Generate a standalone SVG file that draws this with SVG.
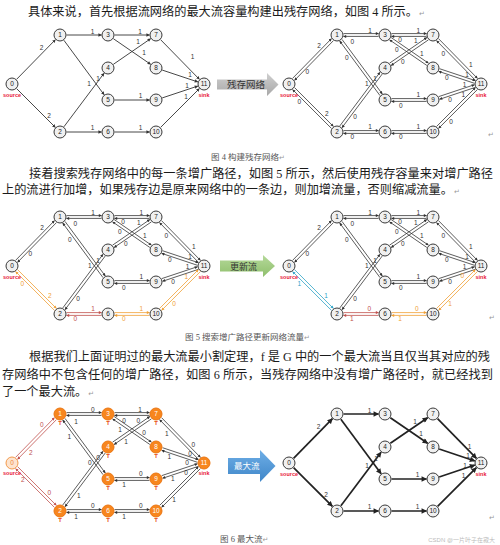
<svg xmlns="http://www.w3.org/2000/svg" width="500" height="545" viewBox="0 0 500 545">
<style>
.txt{font-family:"Liberation Serif","Noto Sans CJK SC",serif;font-size:12.2px;fill:#1a1a1a}
.cap{font-family:"Liberation Serif","Noto Sans CJK SC",serif;font-size:8.5px;fill:#555}
.pm{font-family:"DejaVu Sans",sans-serif;font-size:7px;fill:#999}
.nd circle{fill:#f0f0f0;stroke:#3a3a3a;stroke-width:1}
.num{font-family:"Liberation Sans",sans-serif;font-size:6.5px;text-anchor:middle;fill:#222}
.on circle{fill:#f7861e;stroke:#ec7612}
.on .num{fill:#fff}
.src circle{fill:#fde4cf;stroke:#f39a4c}
.src .num{fill:#f0883a}
.tag{font-family:"Liberation Sans",sans-serif;font-size:5.5px;font-weight:bold;fill:#e8203a;text-anchor:middle}
.T{font-family:"Liberation Sans",sans-serif;font-size:6px;font-weight:bold;fill:#e8501a;text-anchor:middle}
.lb{font-family:"Liberation Sans",sans-serif;font-size:6.5px;fill:#333;text-anchor:middle}
.lo{fill:#f0a035}
.lr{fill:#c0504d}
.lt{fill:#2fa3c7}
.se{stroke:#333;stroke-width:0.9;fill:none;marker-end:url(#ad)}
.rd{stroke:#333;stroke-width:0.8;fill:none;marker-end:url(#ad2)}
.ro{stroke:#f0a035;marker-end:url(#ao)}
.rr{stroke:#c0504d;marker-end:url(#ar)}
.rt{stroke:#2fa3c7;marker-end:url(#at)}
.be{stroke:#222;stroke-width:1.7;fill:none;marker-end:url(#ab)}
.bx{font-family:"Noto Sans CJK SC",sans-serif}
</style>
<defs>
<marker id="ad" viewBox="0 0 10 10" refX="9" refY="5" markerUnits="userSpaceOnUse" markerWidth="4" markerHeight="3.4" orient="auto"><path d="M0,0L10,5L0,10z" fill="#333"/></marker>
<marker id="ad2" viewBox="0 0 10 10" refX="9" refY="5" markerUnits="userSpaceOnUse" markerWidth="4" markerHeight="3" orient="auto"><path d="M0,0L10,5L0,10z" fill="#333"/></marker>
<marker id="ao" viewBox="0 0 10 10" refX="9" refY="5" markerUnits="userSpaceOnUse" markerWidth="4" markerHeight="3" orient="auto"><path d="M0,0L10,5L0,10z" fill="#f0a035"/></marker>
<marker id="ar" viewBox="0 0 10 10" refX="9" refY="5" markerUnits="userSpaceOnUse" markerWidth="4" markerHeight="3" orient="auto"><path d="M0,0L10,5L0,10z" fill="#c0504d"/></marker>
<marker id="at" viewBox="0 0 10 10" refX="9" refY="5" markerUnits="userSpaceOnUse" markerWidth="4" markerHeight="3" orient="auto"><path d="M0,0L10,5L0,10z" fill="#2fa3c7"/></marker>
<marker id="ab" viewBox="0 0 10 10" refX="9" refY="5" markerUnits="userSpaceOnUse" markerWidth="6.5" markerHeight="5.5" orient="auto"><path d="M0,0L10,5L0,10z" fill="#222"/></marker>
<linearGradient id="gg" x1="0" y1="0" x2="0" y2="1"><stop offset="0" stop-color="#cfcfcf"/><stop offset="1" stop-color="#a8a8a8"/></linearGradient>
<linearGradient id="gn" x1="0" y1="0" x2="0" y2="1"><stop offset="0" stop-color="#b5d99a"/><stop offset="1" stop-color="#8fbf6c"/></linearGradient>
<linearGradient id="gb" x1="0" y1="0" x2="0" y2="1"><stop offset="0" stop-color="#6eaee6"/><stop offset="1" stop-color="#3f86c8"/></linearGradient>
<path id="s01" d="M16.55,79.36L55.45,39.64"/>
<path id="s02" d="M16.6,88.6L55.4,127.4"/>
<path id="s13" d="M66.5,35L101.5,35"/>
<path id="s15" d="M63.86,40.23L104.14,94.77"/>
<path id="s24" d="M63.9,126.8L104.1,73.2"/>
<path id="s26" d="M66.5,132L101.5,132"/>
<path id="s37" d="M114.5,35L149.5,35"/>
<path id="s38" d="M113.36,38.68L150.64,64.32"/>
<path id="s47" d="M113.36,64.32L150.64,38.68"/>
<path id="s59" d="M114.5,100L149.5,100"/>
<path id="s610" d="M114.5,132L149.5,132"/>
<path id="s711" d="M160.55,39.64L199.45,79.36"/>
<path id="s811" d="M162.17,70.06L197.83,81.94"/>
<path id="s911" d="M162.17,97.95L197.83,86.06"/>
<path id="s1011" d="M160.6,127.4L199.4,88.6"/>
<g id="r01"><path d="M15.55,78.38L54.45,38.66"/><path d="M56.45,40.62L17.55,80.34"/></g>
<g id="r02"><path d="M17.59,87.61L56.39,126.41"/><path d="M54.41,128.39L15.61,89.59"/></g>
<g id="r13"><path d="M66.5,33.6L101.5,33.6"/><path d="M101.5,36.4L66.5,36.4"/></g>
<g id="r15"><path d="M64.99,39.39L105.27,93.94"/><path d="M103.01,95.61L62.74,41.06"/></g>
<g id="r24"><path d="M62.78,125.96L102.98,72.36"/><path d="M105.22,74.04L65.02,127.64"/></g>
<g id="r26"><path d="M66.5,130.6L101.5,130.6"/><path d="M101.5,133.4L66.5,133.4"/></g>
<g id="r37"><path d="M114.5,33.6L149.5,33.6"/><path d="M149.5,36.4L114.5,36.4"/></g>
<g id="r38"><path d="M114.15,37.53L151.44,63.16"/><path d="M149.85,65.47L112.56,39.84"/></g>
<g id="r47"><path d="M112.56,63.16L149.85,37.53"/><path d="M151.44,39.84L114.15,65.47"/></g>
<g id="r59"><path d="M114.5,98.6L149.5,98.6"/><path d="M149.5,101.4L114.5,101.4"/></g>
<g id="r610"><path d="M114.5,130.6L149.5,130.6"/><path d="M149.5,133.4L114.5,133.4"/></g>
<g id="r711"><path d="M161.55,38.66L200.45,78.38"/><path d="M198.45,80.34L159.55,40.62"/></g>
<g id="r811"><path d="M162.61,68.73L198.28,80.62"/><path d="M197.39,83.27L161.72,71.38"/></g>
<g id="r911"><path d="M161.72,96.62L197.39,84.73"/><path d="M198.28,87.38L162.61,99.27"/></g>
<g id="r1011"><path d="M159.61,126.41L198.41,87.61"/><path d="M200.39,89.59L161.59,128.39"/></g>
</defs>

<rect width="500" height="545" fill="#fff"/>

<g id="texts">
<text class="txt" x="28" y="16">具体来说，首先根据流网络的最大流容量构建出残存网络，如图 4 所示。<tspan class="pm" dx="1">↵</tspan></text>
<text class="cap" x="211" y="160">图 4 构建残存网络<tspan class="pm">↵</tspan></text>
<text class="txt" x="29" y="177.5" textLength="464" lengthAdjust="spacing">接着搜索残存网络中的每一条增广路径，如图 5 所示，然后使用残存容量来对增广路径</text>
<text class="txt" x="2" y="193.5">上的流进行加增，如果残存边是原来网络中的一条边，则加增流量，否则缩减流量。<tspan class="pm" dx="1">↵</tspan></text>
<text class="cap" x="185" y="340">图 5 搜索增广路径更新网络流量<tspan class="pm">↵</tspan></text>
<text class="txt" x="29" y="361.3" textLength="461" lengthAdjust="spacing">根据我们上面证明过的最大流最小割定理，f 是 G 中的一个最大流当且仅当其对应的残</text>
<text class="txt" x="2" y="379.3" textLength="491" lengthAdjust="spacing">存网络中不包含任何的增广路径，如图 6 所示，当残存网络中没有增广路径时，就已经找到</text>
<text class="txt" x="2" y="396.3">了一个最大流。<tspan class="pm" dx="1">↵</tspan></text>
<text class="cap" x="220" y="542">图 6 最大流<tspan class="pm">↵</tspan></text>
<text class="pm" x="488" y="137">↵</text>
<text class="pm" x="489" y="320">↵</text>
<text class="pm" x="489" y="520">↵</text>
<text x="495" y="542" text-anchor="end" font-family="Liberation Sans, Noto Sans CJK SC, sans-serif" font-size="6" fill="#bbb">CSDN @一片叶子在寂大</text>
</g>

<g id="arrow-residual">
<polygon points="217,79.5 267,79.5 267,73 278.5,84.5 267,96 267,89.5 217,89.5" fill="url(#gg)"/>
<text class="bx" x="227" y="88" font-size="9.5" fill="#333">残存网络</text>
</g>
<g id="arrow-update">
<polygon points="220,260.5 263,260.5 263,255 275,266 263,277 263,271.5 220,271.5" fill="url(#gn)"/>
<text class="bx" x="230" y="269.5" font-size="9" fill="#333">更新流</text>
</g>
<g id="arrow-maxflow">
<polygon points="228,458 260,458 260,450 275.5,466 260,482 260,474 228,474" fill="url(#gb)"/>
<text class="bx" x="234" y="469" font-size="8.5" fill="#fff">最大流</text>
</g>

<!-- Panel 1: flow network -->
<g id="panel1">
<g id="p1-edges">
<use href="#s01" class="se"/><use href="#s02" class="se"/><use href="#s13" class="se"/><use href="#s15" class="se"/><use href="#s24" class="se"/><use href="#s26" class="se"/><use href="#s37" class="se"/><use href="#s38" class="se"/><use href="#s47" class="se"/><use href="#s59" class="se"/><use href="#s610" class="se"/><use href="#s711" class="se"/><use href="#s811" class="se"/><use href="#s911" class="se"/><use href="#s1011" class="se"/>
<text class="lb" x="41.5" y="49.8">2</text><text class="lb" x="49" y="118.3">2</text><text class="lb" x="92.5" y="33.8">1</text><text class="lb" x="98" y="81.3">1</text><text class="lb" x="89" y="86.3">1</text><text class="lb" x="140" y="33.8">1</text><text class="lb" x="144" y="55.3">1</text><text class="lb" x="138" y="43.8">1</text><text class="lb" x="140.5" y="98.3">1</text><text class="lb" x="92.5" y="129.8">1</text><text class="lb" x="140.5" y="129.8">1</text><text class="lb" x="192.5" y="58.8">1</text><text class="lb" x="190" y="77.3">1</text><text class="lb" x="187" y="88.3">1</text><text class="lb" x="186" y="98.8">1</text>
</g>
<g id="p1-n0" class="nd"><circle cx="12" cy="84" r="6"/><text class="num" x="12" y="86.3">0</text><text class="tag" x="12" y="96.5">source</text></g>
<g id="p1-n1" class="nd"><circle cx="60" cy="35" r="6"/><text class="num" x="60" y="37.3">1</text></g>
<g id="p1-n2" class="nd"><circle cx="60" cy="132" r="6"/><text class="num" x="60" y="134.3">2</text></g>
<g id="p1-n3" class="nd"><circle cx="108" cy="35" r="6"/><text class="num" x="108" y="37.3">3</text></g>
<g id="p1-n4" class="nd"><circle cx="108" cy="68" r="6"/><text class="num" x="108" y="70.3">4</text></g>
<g id="p1-n5" class="nd"><circle cx="108" cy="100" r="6"/><text class="num" x="108" y="102.3">5</text></g>
<g id="p1-n6" class="nd"><circle cx="108" cy="132" r="6"/><text class="num" x="108" y="134.3">6</text></g>
<g id="p1-n7" class="nd"><circle cx="156" cy="35" r="6"/><text class="num" x="156" y="37.3">7</text></g>
<g id="p1-n8" class="nd"><circle cx="156" cy="68" r="6"/><text class="num" x="156" y="70.3">8</text></g>
<g id="p1-n9" class="nd"><circle cx="156" cy="100" r="6"/><text class="num" x="156" y="102.3">9</text></g>
<g id="p1-n10" class="nd"><circle cx="156" cy="132" r="6"/><text class="num" x="156" y="134.3">10</text></g>
<g id="p1-n11" class="nd"><circle cx="204" cy="84" r="6"/><text class="num" x="204" y="86.3">11</text><text class="tag" x="204" y="96.5">sink</text></g>
</g>

<!-- Panel 2: residual network -->
<g id="panel2" transform="translate(277,0)">
<g id="p2-edges">
<use href="#r01" class="rd"/><use href="#r02" class="rd"/><use href="#r13" class="rd"/><use href="#r15" class="rd"/><use href="#r24" class="rd"/><use href="#r26" class="rd"/><use href="#r37" class="rd"/><use href="#r38" class="rd"/><use href="#r47" class="rd"/><use href="#r59" class="rd"/><use href="#r610" class="rd"/><use href="#r711" class="rd"/><use href="#r811" class="rd"/><use href="#r911" class="rd"/><use href="#r1011" class="rd"/>
<text class="lb" x="42" y="48">2</text><text class="lb" x="30.3" y="74">0</text>
<text class="lb" x="22.3" y="104">0</text><text class="lb" x="49.7" y="116.3">2</text>
<text class="lb" x="93" y="33">1</text><text class="lb" x="75.3" y="44">0</text>
<text class="lb" x="69.7" y="59.6">0</text><text class="lb" x="98" y="81">1</text>
<text class="lb" x="89.7" y="86.3">1</text><text class="lb" x="78" y="119">0</text>
<text class="lb" x="93" y="129">1</text><text class="lb" x="75.3" y="139">0</text>
<text class="lb" x="141.3" y="33">1</text><text class="lb" x="123" y="42.3">0</text>
<text class="lb" x="119.7" y="52.3">0</text><text class="lb" x="144.7" y="55.6">1</text>
<text class="lb" x="138.7" y="43.3">1</text><text class="lb" x="125.7" y="64">0</text>
<text class="lb" x="141.3" y="96.6">1</text><text class="lb" x="123.7" y="108">0</text>
<text class="lb" x="141.3" y="129">1</text><text class="lb" x="123.7" y="139">0</text>
<text class="lb" x="166.3" y="55.6">0</text><text class="lb" x="193.7" y="67.3">1</text>
<text class="lb" x="169.7" y="79.6">0</text><text class="lb" x="190" y="77.3">1</text>
<text class="lb" x="173" y="101.6">0</text><text class="lb" x="187.5" y="87.3">1</text>
<text class="lb" x="174" y="124">0</text><text class="lb" x="186.3" y="96.8">1</text>
</g>
<g id="p2-n0" class="nd"><circle cx="12" cy="84" r="6"/><text class="num" x="12" y="86.3">0</text><text class="tag" x="12" y="96.5">source</text></g>
<g id="p2-n1" class="nd"><circle cx="60" cy="35" r="6"/><text class="num" x="60" y="37.3">1</text></g>
<g id="p2-n2" class="nd"><circle cx="60" cy="132" r="6"/><text class="num" x="60" y="134.3">2</text></g>
<g id="p2-n3" class="nd"><circle cx="108" cy="35" r="6"/><text class="num" x="108" y="37.3">3</text></g>
<g id="p2-n4" class="nd"><circle cx="108" cy="68" r="6"/><text class="num" x="108" y="70.3">4</text></g>
<g id="p2-n5" class="nd"><circle cx="108" cy="100" r="6"/><text class="num" x="108" y="102.3">5</text></g>
<g id="p2-n6" class="nd"><circle cx="108" cy="132" r="6"/><text class="num" x="108" y="134.3">6</text></g>
<g id="p2-n7" class="nd"><circle cx="156" cy="35" r="6"/><text class="num" x="156" y="37.3">7</text></g>
<g id="p2-n8" class="nd"><circle cx="156" cy="68" r="6"/><text class="num" x="156" y="70.3">8</text></g>
<g id="p2-n9" class="nd"><circle cx="156" cy="100" r="6"/><text class="num" x="156" y="102.3">9</text></g>
<g id="p2-n10" class="nd"><circle cx="156" cy="132" r="6"/><text class="num" x="156" y="134.3">10</text></g>
<g id="p2-n11" class="nd"><circle cx="204" cy="84" r="6"/><text class="num" x="204" y="86.3">11</text><text class="tag" x="204" y="96.5">sink</text></g>
</g>

<!-- Panel 3: augmenting path highlighted -->
<g id="panel3" transform="translate(0,182)">
<g id="p3-edges">
<use href="#r01" class="rd"/><use href="#r02" class="rd ro"/><use href="#r13" class="rd"/><use href="#r15" class="rd"/><use href="#r24" class="rd"/><use href="#r26" class="rd rr"/><use href="#r37" class="rd"/><use href="#r38" class="rd"/><use href="#r47" class="rd"/><use href="#r59" class="rd"/><use href="#r610" class="rd ro"/><use href="#r711" class="rd"/><use href="#r811" class="rd"/><use href="#r911" class="rd"/><use href="#r1011" class="rd ro"/>
<text class="lb" x="42" y="48">2</text><text class="lb" x="30.3" y="74">0</text>
<text class="lb lo" x="22.3" y="104">0</text><text class="lb lo" x="49.7" y="116.3">2</text>
<text class="lb" x="93" y="33">1</text><text class="lb" x="75.3" y="44">0</text>
<text class="lb" x="69.7" y="59.6">0</text><text class="lb" x="98" y="81">1</text>
<text class="lb" x="89.7" y="86.3">1</text><text class="lb" x="78" y="119">0</text>
<text class="lb lr" x="93" y="129">1</text><text class="lb lr" x="75.3" y="139">0</text>
<text class="lb" x="141.3" y="33">1</text><text class="lb" x="123" y="42.3">0</text>
<text class="lb" x="119.7" y="52.3">0</text><text class="lb" x="144.7" y="55.6">1</text>
<text class="lb" x="138.7" y="43.3">1</text><text class="lb" x="125.7" y="64">0</text>
<text class="lb" x="141.3" y="96.6">1</text><text class="lb" x="123.7" y="108">0</text>
<text class="lb lo" x="141.3" y="129">1</text><text class="lb lo" x="123.7" y="139">0</text>
<text class="lb" x="166.3" y="55.6">0</text><text class="lb" x="193.7" y="67.3">1</text>
<text class="lb" x="169.7" y="79.6">0</text><text class="lb" x="190" y="77.3">1</text>
<text class="lb" x="173" y="101.6">0</text><text class="lb" x="187.5" y="87.3">1</text>
<text class="lb lo" x="174" y="124">0</text><text class="lb lo" x="186.3" y="96.8">1</text>
</g>
<g id="p3-n0" class="nd"><circle cx="12" cy="84" r="6"/><text class="num" x="12" y="86.3">0</text><text class="tag" x="12" y="96.5">source</text></g>
<g id="p3-n1" class="nd"><circle cx="60" cy="35" r="6"/><text class="num" x="60" y="37.3">1</text></g>
<g id="p3-n2" class="nd"><circle cx="60" cy="132" r="6"/><text class="num" x="60" y="134.3">2</text></g>
<g id="p3-n3" class="nd"><circle cx="108" cy="35" r="6"/><text class="num" x="108" y="37.3">3</text></g>
<g id="p3-n4" class="nd"><circle cx="108" cy="68" r="6"/><text class="num" x="108" y="70.3">4</text></g>
<g id="p3-n5" class="nd"><circle cx="108" cy="100" r="6"/><text class="num" x="108" y="102.3">5</text></g>
<g id="p3-n6" class="nd"><circle cx="108" cy="132" r="6"/><text class="num" x="108" y="134.3">6</text></g>
<g id="p3-n7" class="nd"><circle cx="156" cy="35" r="6"/><text class="num" x="156" y="37.3">7</text></g>
<g id="p3-n8" class="nd"><circle cx="156" cy="68" r="6"/><text class="num" x="156" y="70.3">8</text></g>
<g id="p3-n9" class="nd"><circle cx="156" cy="100" r="6"/><text class="num" x="156" y="102.3">9</text></g>
<g id="p3-n10" class="nd"><circle cx="156" cy="132" r="6"/><text class="num" x="156" y="134.3">10</text></g>
<g id="p3-n11" class="nd"><circle cx="204" cy="84" r="6"/><text class="num" x="204" y="86.3">11</text><text class="tag" x="204" y="96.5">sink</text></g>
</g>

<!-- Panel 4: updated residual network -->
<g id="panel4" transform="translate(277,182)">
<g id="p4-edges">
<use href="#r01" class="rd"/><use href="#r02" class="rd rt"/><use href="#r13" class="rd"/><use href="#r15" class="rd"/><use href="#r24" class="rd"/><use href="#r26" class="rd rr"/><use href="#r37" class="rd"/><use href="#r38" class="rd"/><use href="#r47" class="rd"/><use href="#r59" class="rd"/><use href="#r610" class="rd ro"/><use href="#r711" class="rd"/><use href="#r811" class="rd"/><use href="#r911" class="rd"/><use href="#r1011" class="rd ro"/>
<text class="lb" x="42" y="48">2</text><text class="lb" x="30.3" y="74">0</text>
<text class="lb lt" x="22.3" y="104.3">1</text><text class="lb lt" x="49" y="116.3">1</text>
<text class="lb" x="93" y="33">1</text><text class="lb" x="75.3" y="44">0</text>
<text class="lb" x="69.7" y="59.6">0</text><text class="lb" x="98" y="81">1</text>
<text class="lb" x="89.7" y="86.3">1</text><text class="lb" x="78" y="119">0</text>
<text class="lb lr" x="92.3" y="128.6">0</text><text class="lb lr" x="74.7" y="138.6">1</text>
<text class="lb" x="141.3" y="33">1</text><text class="lb" x="123" y="42.3">0</text>
<text class="lb" x="119.7" y="52.3">0</text><text class="lb" x="144.7" y="55.6">1</text>
<text class="lb" x="138.7" y="43.3">1</text><text class="lb" x="125.7" y="64">0</text>
<text class="lb" x="141.3" y="96.6">1</text><text class="lb" x="123.7" y="108">0</text>
<text class="lb lo" x="139.7" y="128.6">0</text><text class="lb lo" x="123" y="138.6">1</text>
<text class="lb" x="166.3" y="55.6">0</text><text class="lb" x="193.7" y="67.3">1</text>
<text class="lb" x="169.7" y="79.6">0</text><text class="lb" x="190" y="77.3">1</text>
<text class="lb" x="173" y="101.6">0</text><text class="lb" x="187.5" y="87.3">1</text>
<text class="lb lo" x="173" y="123.6">1</text><text class="lb lo" x="185.3" y="96.3">0</text>
</g>
<g id="p4-n0" class="nd"><circle cx="12" cy="84" r="6"/><text class="num" x="12" y="86.3">0</text><text class="tag" x="12" y="96.5">source</text></g>
<g id="p4-n1" class="nd"><circle cx="60" cy="35" r="6"/><text class="num" x="60" y="37.3">1</text></g>
<g id="p4-n2" class="nd"><circle cx="60" cy="132" r="6"/><text class="num" x="60" y="134.3">2</text></g>
<g id="p4-n3" class="nd"><circle cx="108" cy="35" r="6"/><text class="num" x="108" y="37.3">3</text></g>
<g id="p4-n4" class="nd"><circle cx="108" cy="68" r="6"/><text class="num" x="108" y="70.3">4</text></g>
<g id="p4-n5" class="nd"><circle cx="108" cy="100" r="6"/><text class="num" x="108" y="102.3">5</text></g>
<g id="p4-n6" class="nd"><circle cx="108" cy="132" r="6"/><text class="num" x="108" y="134.3">6</text></g>
<g id="p4-n7" class="nd"><circle cx="156" cy="35" r="6"/><text class="num" x="156" y="37.3">7</text></g>
<g id="p4-n8" class="nd"><circle cx="156" cy="68" r="6"/><text class="num" x="156" y="70.3">8</text></g>
<g id="p4-n9" class="nd"><circle cx="156" cy="100" r="6"/><text class="num" x="156" y="102.3">9</text></g>
<g id="p4-n10" class="nd"><circle cx="156" cy="132" r="6"/><text class="num" x="156" y="134.3">10</text></g>
<g id="p4-n11" class="nd"><circle cx="204" cy="84" r="6"/><text class="num" x="204" y="86.3">11</text><text class="tag" x="204" y="96.5">sink</text></g>
</g>

<!-- Panel 5: final residual network -->
<g id="panel5" transform="translate(0,379)">
<g id="p5-edges">
<use href="#r01" class="rd rr"/><use href="#r02" class="rd rr"/><use href="#r13" class="rd"/><use href="#r15" class="rd"/><use href="#r24" class="rd"/><use href="#r26" class="rd"/><use href="#r37" class="rd"/><use href="#r38" class="rd"/><use href="#r47" class="rd"/><use href="#r59" class="rd"/><use href="#r610" class="rd"/><use href="#r711" class="rd"/><use href="#r811" class="rd"/><use href="#r911" class="rd"/><use href="#r1011" class="rd"/>
<text class="lb lr" x="41.7" y="48.3">0</text><text class="lb lr" x="30.7" y="75.6">2</text>
<text class="lb lr" x="22.7" y="103.3">2</text><text class="lb lr" x="49.3" y="116">0</text>
<text class="lb" x="92.7" y="33.3">0</text><text class="lb" x="76" y="45">1</text>
<text class="lb" x="69.3" y="60">1</text><text class="lb" x="98" y="81.3">0</text>
<text class="lb" x="89.7" y="86.3">0</text><text class="lb" x="78.7" y="119.3">1</text>
<text class="lb" x="92.7" y="129.3">0</text><text class="lb" x="76" y="140">1</text>
<text class="lb" x="140" y="33.3">1</text><text class="lb" x="124" y="44">0</text>
<text class="lb" x="120" y="52.6">1</text><text class="lb" x="144" y="56">0</text>
<text class="lb" x="138.3" y="44">0</text><text class="lb" x="126" y="65">1</text>
<text class="lb" x="140.7" y="96.6">0</text><text class="lb" x="124" y="107.6">1</text>
<text class="lb" x="140.7" y="129.3">0</text><text class="lb" x="124" y="140">1</text>
<text class="lb" x="166.7" y="56.6">1</text><text class="lb" x="193.3" y="68.3">0</text>
<text class="lb" x="169.3" y="80">1</text><text class="lb" x="190" y="77.3">0</text>
<text class="lb" x="172.7" y="101.6">1</text><text class="lb" x="187" y="86.3">0</text>
<text class="lb" x="174" y="123.3">1</text><text class="lb" x="186" y="96.3">0</text>
</g>
<g id="p5-n0" class="nd src"><circle cx="12" cy="84" r="6"/><text class="num" x="12" y="86.3">0</text><text class="tag" x="12" y="95.5">source</text></g>
<g id="p5-n1" class="nd on"><circle cx="60" cy="35" r="6"/><text class="num" x="60" y="37.3">1</text><text class="T" x="60" y="46">T</text></g>
<g id="p5-n2" class="nd on"><circle cx="60" cy="132" r="6"/><text class="num" x="60" y="134.3">2</text><text class="T" x="60" y="143">T</text></g>
<g id="p5-n3" class="nd on"><circle cx="108" cy="35" r="6"/><text class="num" x="108" y="37.3">3</text><text class="T" x="108" y="46">T</text></g>
<g id="p5-n4" class="nd on"><circle cx="108" cy="68" r="6"/><text class="num" x="108" y="70.3">4</text><text class="T" x="108" y="79">T</text></g>
<g id="p5-n5" class="nd on"><circle cx="108" cy="100" r="6"/><text class="num" x="108" y="102.3">5</text><text class="T" x="108" y="111">T</text></g>
<g id="p5-n6" class="nd on"><circle cx="108" cy="132" r="6"/><text class="num" x="108" y="134.3">6</text><text class="T" x="108" y="143">T</text></g>
<g id="p5-n7" class="nd on"><circle cx="156" cy="35" r="6"/><text class="num" x="156" y="37.3">7</text><text class="T" x="156" y="46">T</text></g>
<g id="p5-n8" class="nd on"><circle cx="156" cy="68" r="6"/><text class="num" x="156" y="70.3">8</text><text class="T" x="156" y="79">T</text></g>
<g id="p5-n9" class="nd on"><circle cx="156" cy="100" r="6"/><text class="num" x="156" y="102.3">9</text><text class="T" x="156" y="111">T</text></g>
<g id="p5-n10" class="nd on"><circle cx="156" cy="132" r="6"/><text class="num" x="156" y="134.3">10</text><text class="T" x="156" y="143">T</text></g>
<g id="p5-n11" class="nd on"><circle cx="204" cy="84" r="6"/><text class="num" x="204" y="86.3">11</text><text class="tag" x="204" y="95.5">sink</text></g>
</g>

<!-- Panel 6: maximum flow -->
<g id="panel6" transform="translate(277,379)">
<g id="p6-edges">
<use href="#s01" class="be"/><use href="#s02" class="be"/><use href="#s13" class="be"/><use href="#s15" class="be"/><use href="#s24" class="be"/><use href="#s26" class="be"/><use href="#s38" class="be"/><use href="#s47" class="be"/><use href="#s59" class="be"/><use href="#s610" class="be"/><use href="#s711" class="be"/><use href="#s811" class="be"/><use href="#s911" class="be"/><use href="#s1011" class="be"/>
<text class="lb" x="41.5" y="49.8">2</text><text class="lb" x="49" y="118.3">2</text><text class="lb" x="92.5" y="33.8">1</text><text class="lb" x="90" y="89">1</text><text class="lb" x="99" y="82">1</text><text class="lb" x="144" y="57">1</text><text class="lb" x="138" y="45">1</text><text class="lb" x="140.5" y="98.3">1</text><text class="lb" x="92.5" y="129.8">1</text><text class="lb" x="140.5" y="129.8">1</text><text class="lb" x="192.5" y="70">1</text><text class="lb" x="191" y="79">1</text><text class="lb" x="188" y="88.5">1</text><text class="lb" x="186.5" y="99">1</text>
</g>
<g id="p6-n0" class="nd"><circle cx="12" cy="84" r="6"/><text class="num" x="12" y="86.3">0</text><text class="tag" x="12" y="96.5">source</text></g>
<g id="p6-n1" class="nd"><circle cx="60" cy="35" r="6"/><text class="num" x="60" y="37.3">1</text></g>
<g id="p6-n2" class="nd"><circle cx="60" cy="132" r="6"/><text class="num" x="60" y="134.3">2</text></g>
<g id="p6-n3" class="nd"><circle cx="108" cy="35" r="6"/><text class="num" x="108" y="37.3">3</text></g>
<g id="p6-n4" class="nd"><circle cx="108" cy="68" r="6"/><text class="num" x="108" y="70.3">4</text></g>
<g id="p6-n5" class="nd"><circle cx="108" cy="100" r="6"/><text class="num" x="108" y="102.3">5</text></g>
<g id="p6-n6" class="nd"><circle cx="108" cy="132" r="6"/><text class="num" x="108" y="134.3">6</text></g>
<g id="p6-n7" class="nd"><circle cx="156" cy="35" r="6"/><text class="num" x="156" y="37.3">7</text></g>
<g id="p6-n8" class="nd"><circle cx="156" cy="68" r="6"/><text class="num" x="156" y="70.3">8</text></g>
<g id="p6-n9" class="nd"><circle cx="156" cy="100" r="6"/><text class="num" x="156" y="102.3">9</text></g>
<g id="p6-n10" class="nd"><circle cx="156" cy="132" r="6"/><text class="num" x="156" y="134.3">10</text></g>
<g id="p6-n11" class="nd"><circle cx="204" cy="84" r="6"/><text class="num" x="204" y="86.3">11</text><text class="tag" x="204" y="96.5">sink</text></g>
</g>
</svg>
